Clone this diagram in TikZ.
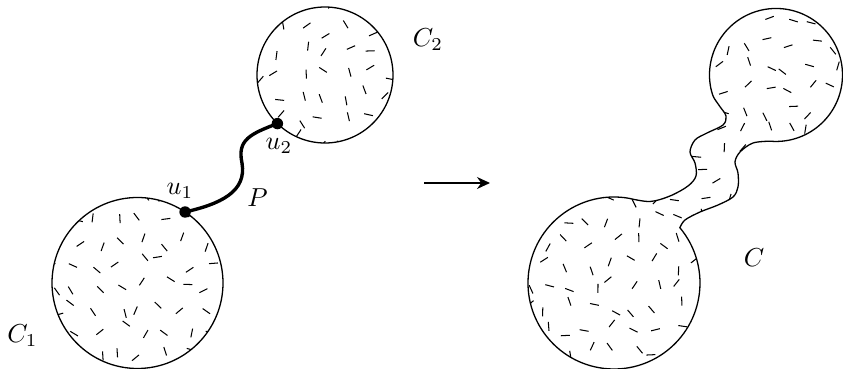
\documentclass[tikz,border=0pt]{standalone}
\usetikzlibrary{arrows.meta}
\tikzset{
  outline/.style={line width=0.5pt},
  hatchmark/.style={line width=0.4pt},
  pathP/.style={line width=1.3pt},
  vdot/.style={circle, fill=black, inner sep=0pt, minimum size=4.4pt},
  lbl/.style={anchor=base, inner sep=0pt},
}
\newcommand\myhatch[2]{%
  \foreach \gx in {#1}{\foreach \gy in {#2}{%
    \pgfmathsetmacro\hx{\gx+7*rand}%
    \pgfmathsetmacro\hy{\gy+7*rand}%
    \pgfmathsetmacro\ha{180*rnd}%
    \draw[hatchmark] (\hx,\hy) ++(\ha:4.5) -- ++(\ha+180:9);}}}
\def\blob{(614,283) ++(-80:86) arc[start angle=-80, end angle=-400, radius=86]
  -- plot[smooth, tension=0.55] coordinates {(679.9,227.7) (685,220) (700,212) (718,205) (733,197) (738,187) (738,173) (735,162) (740,152) (753,143) (770.2,141.2)}
  arc[start angle=95, end angle=-192, radius=66.5]
  -- plot[smooth, tension=0.55] coordinates {(711,88.8) (713.5,97) (719.5,106) (726,116) (723,125) (707,133) (695,140) (690,152) (695,163) (696,176) (688,186) (670,196) (650,201.5) (628.9,198.3)} -- cycle}
\begin{document}
\begin{tikzpicture}[x=0.385pt, y=-0.385pt]
\useasboundingbox (0,0) rectangle (843,369);
% left circles
\coordinate (c1) at (137.5,283);
\coordinate (c2) at (325,75);
\begin{scope}
  \clip (c1) circle[radius=85.5];
  \pgfmathsetseed{11}
  \myhatch{54,76,...,230}{198,220,...,370}
\end{scope}
\begin{scope}
  \clip (c2) circle[radius=68];
  \pgfmathsetseed{23}
  \myhatch{258,280,...,400}{8,30,...,150}
\end{scope}
\draw[outline] (c1) circle[radius=85.5];
\draw[outline] (c2) circle[radius=68];
\node[vdot] (u1) at (185.1,212) {};
\node[vdot] (u2) at (277.4,123.6) {};
\draw[pathP] (u1.center) .. controls (220,204) and (247,192) .. (242,163)
  .. controls (237,140) and (250,134) .. (u2.center);
\node[lbl] (lu1) at (180,195) {$u_1$};
\node[lbl] (lu2) at (279,150) {$u_2$};
\node[lbl] (lP) at (257.5,207) {$P$};
\node[lbl] (lC1) at (22.5,343) {$C_1$};
\node[lbl] (lC2) at (428,46.5) {$C_2$};
% arrow
\coordinate (a0) at (424,183);
\coordinate (a1) at (490,183);
\draw[line width=0.45pt, -{Stealth[length=5pt,width=4.6pt]}] (a0) -- (a1);
% merged shape
\begin{scope}
  \clip \blob;
  \pgfmathsetseed{37}
  \myhatch{525,547,...,845}{0,22,...,369}
\end{scope}
\draw[outline] \blob;
\node[lbl] (lC) at (754,267) {$C$};
\end{tikzpicture}
\end{document}
